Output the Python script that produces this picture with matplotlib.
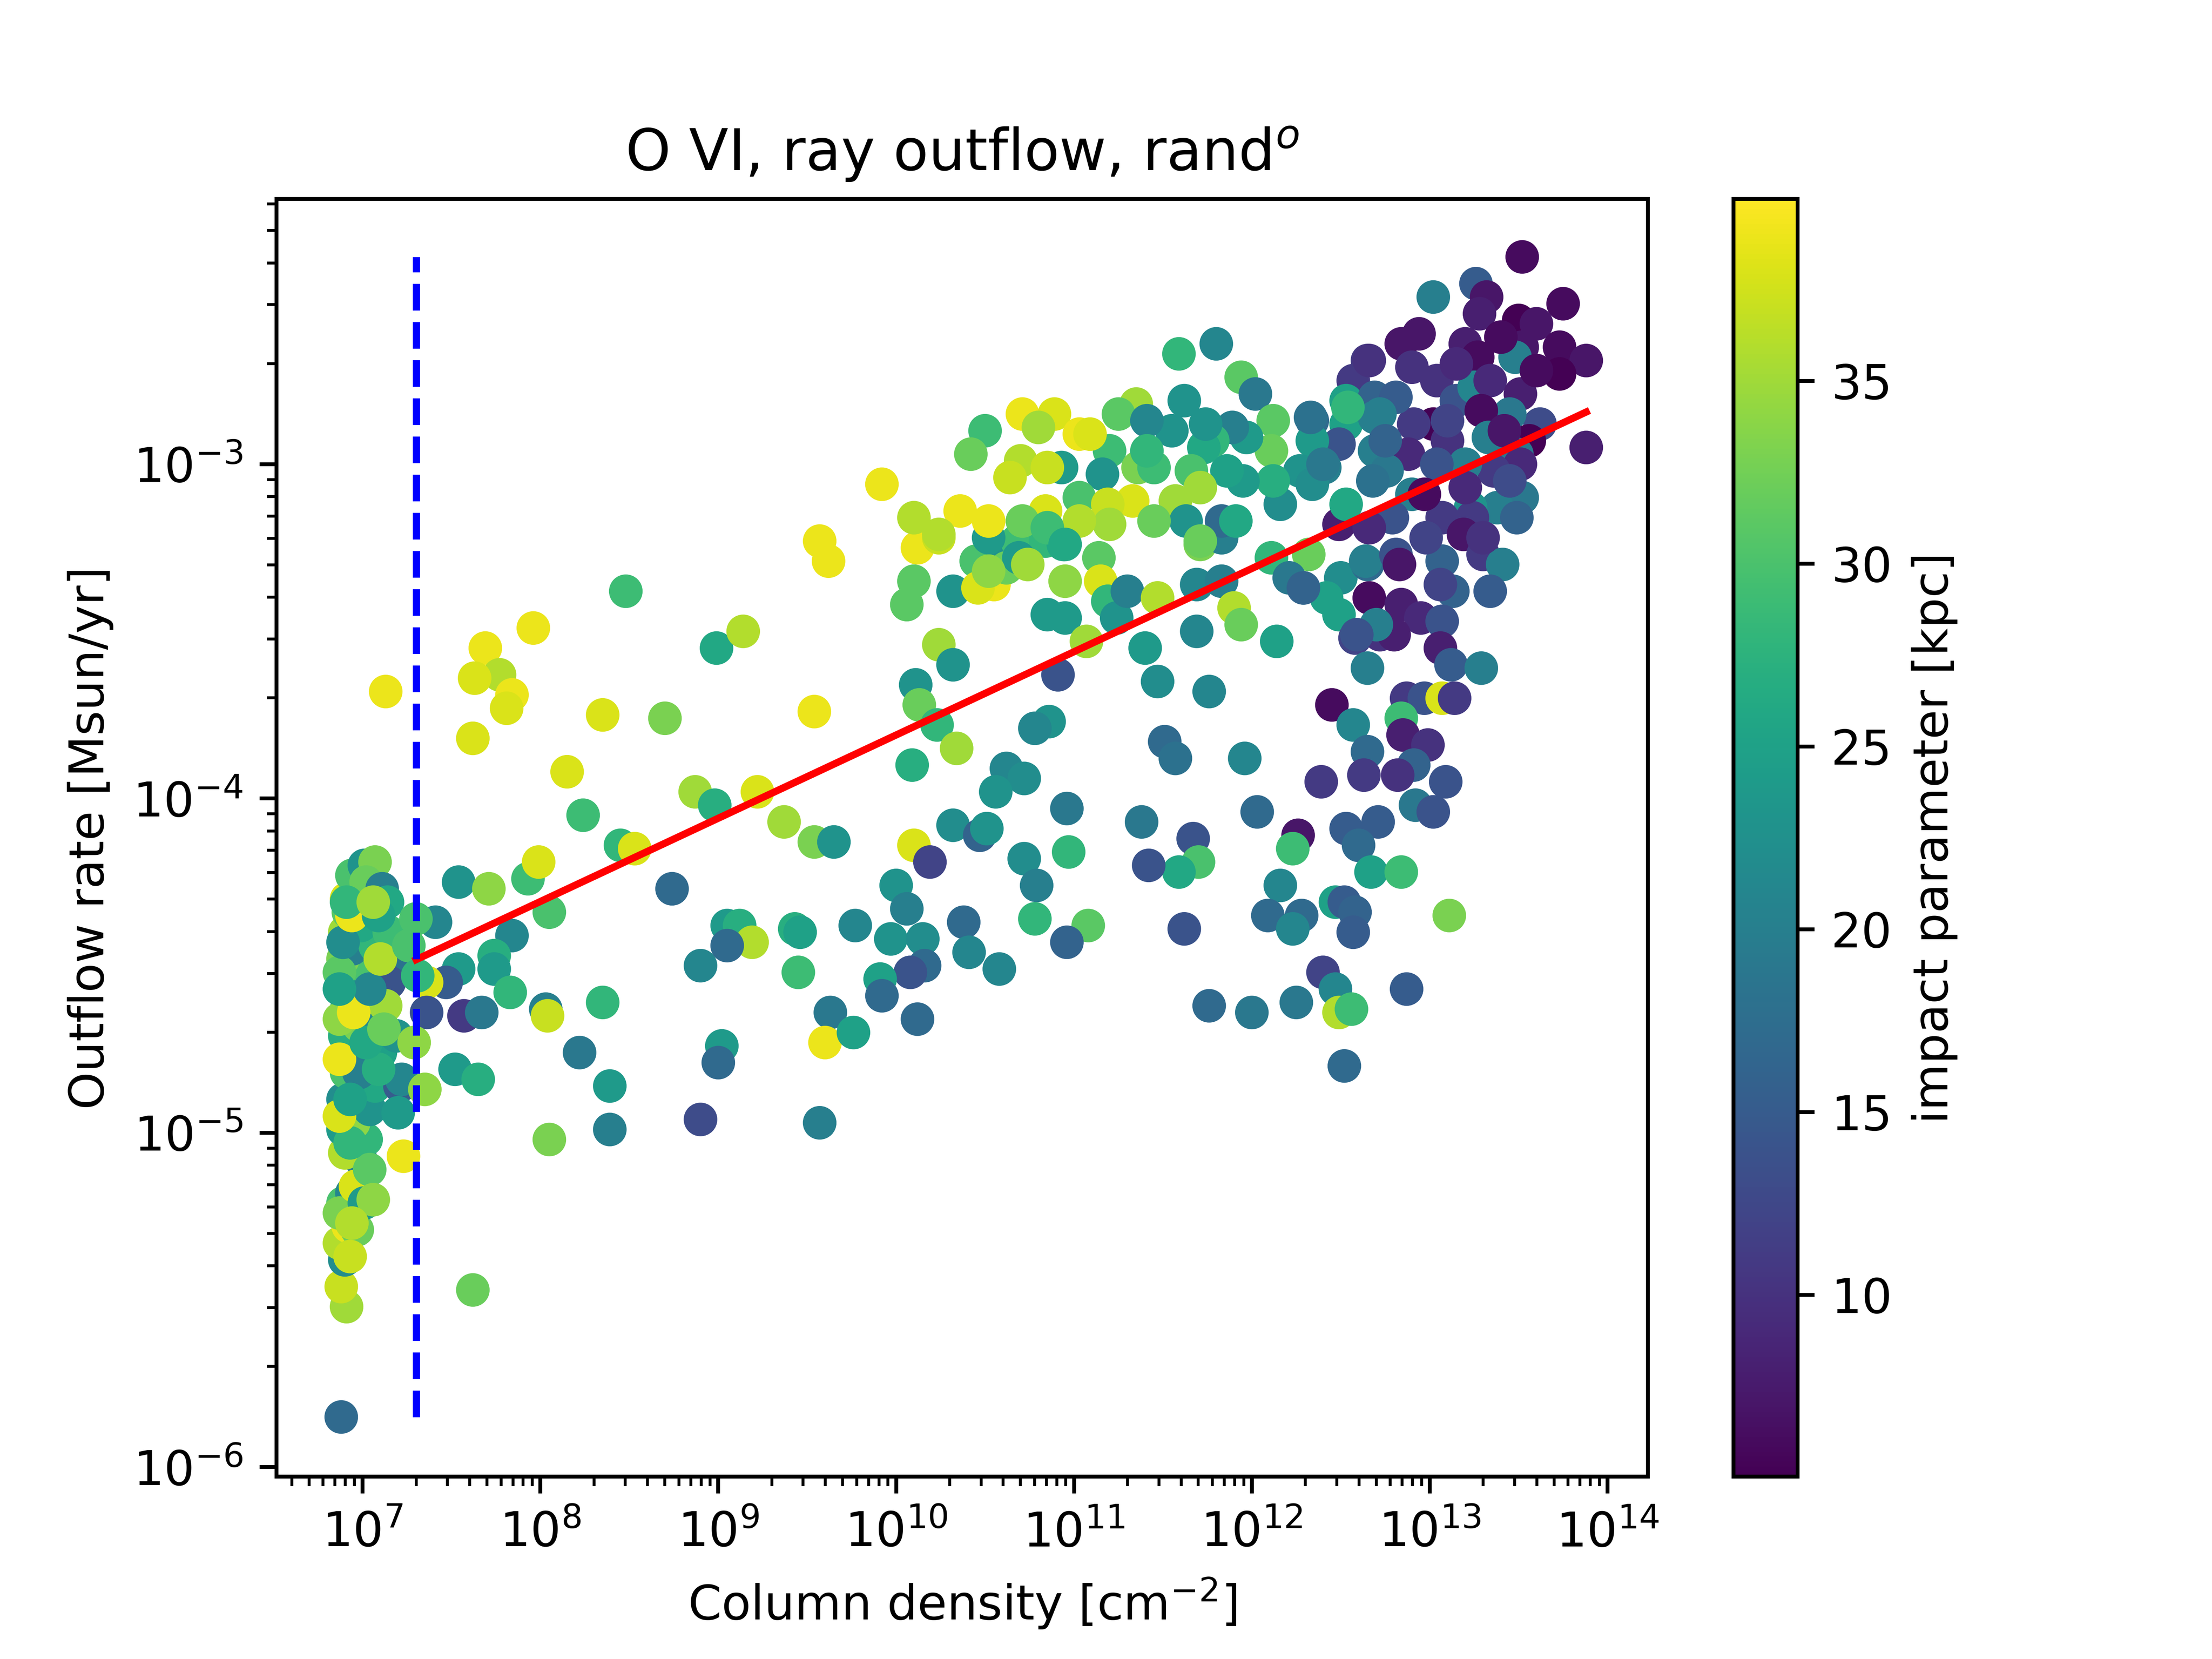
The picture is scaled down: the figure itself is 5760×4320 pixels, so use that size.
import numpy as np
from matplotlib import pyplot as plt

# log10 column density [cm^-2], log10 outflow rate [Msun/yr], impact parameter [kpc]

# column of sightlines at the detection floor (~1e7)
logN_floor = [6.88, 6.91, 6.88, 6.90, 6.87, 6.92, 6.97, 6.89, 6.94, 6.99, 6.90, 7.02, 6.89, 6.95, 7.04, 6.89,
              6.98, 7.07, 6.91, 6.94, 7.03, 7.10, 6.90, 6.98, 7.07, 6.91, 7.00, 7.10, 6.90, 6.98, 7.04, 6.89,
              6.94, 7.07, 6.90, 6.99, 6.92, 7.04, 6.91, 6.97, 6.94, 7.01, 7.07, 7.02, 7.11, 7.14, 7.15, 7.18,
              7.15, 7.13, 7.19, 7.21, 7.23, 7.22, 6.93, 6.87, 6.96, 7.04, 6.93, 6.87, 6.98, 7.09, 6.87, 7.02,
              7.12, 6.87, 6.95, 7.04, 6.87, 7.10, 6.89, 6.94, 7.09, 6.91, 6.87, 7.06, 6.93, 7.01, 7.06, 6.94]
logR_floor = [-5.85, -5.52, -5.46, -5.38, -5.33, -5.28, -5.29, -5.21, -5.18, -5.08, -5.06, -5.02, -4.99, -4.97,
              -4.93, -4.90, -4.86, -4.86, -4.82, -4.77, -4.76, -4.76, -4.71, -4.68, -4.67, -4.63, -4.60, -4.59,
              -4.57, -4.52, -4.52, -4.48, -4.45, -4.44, -4.40, -4.38, -4.34, -4.33, -4.30, -4.26, -4.23, -4.20,
              -4.19, -4.25, -4.27, -4.31, -4.40, -4.52, -4.55, -4.62, -4.71, -4.86, -5.07, -4.84, -5.37, -5.24,
              -5.16, -5.11, -5.03, -4.95, -4.82, -4.81, -4.78, -4.73, -4.69, -4.66, -4.64, -4.57, -4.52, -4.48,
              -4.43, -4.35, -4.35, -4.31, -4.57, -4.31, -4.90, -5.21, -5.20, -5.27]
b_floor = [17, 35, 37, 22, 36, 39, 32, 30, 21, 20, 36, 28, 24, 34, 23, 22, 38, 26, 30, 18, 34, 25, 27, 33, 21, 29,
           36, 22, 37, 24, 30, 33, 20, 28, 35, 26, 31, 22, 38, 24, 30, 23, 33, 32, 20, 26, 29, 18, 14, 35, 23, 15,
           39, 21, 37, 33, 38, 31, 28, 38, 20, 27, 39, 26, 32, 34, 39, 21, 31, 36, 22, 39, 25, 28, 25, 35, 25, 24,
           34, 36]

# low columns, 1e7 - 1e9
logN_low = [8.48, 7.96, 7.69, 7.77, 7.63, 7.84, 7.81, 7.13, 7.62, 8.35, 8.70, 8.15, 8.24, 8.45, 8.53, 8.87, 8.98,
            8.99, 9.14, 7.54, 7.71, 7.93, 7.99, 8.74, 8.05, 7.41, 7.30, 7.26, 7.84, 7.74, 7.74, 7.54, 7.47, 7.36,
            7.31, 7.83, 8.03, 8.04, 7.36, 7.57, 7.67, 8.35, 8.90, 7.29, 7.35, 7.52, 7.65, 8.22, 8.39, 8.39, 8.90,
            8.05, 7.20, 7.62]
logR_low = [-3.38, -3.49, -3.55, -3.63, -3.64, -3.69, -3.73, -3.68, -3.82, -3.75, -3.76, -3.92, -4.05, -4.14,
            -4.15, -3.98, -4.02, -3.55, -3.50, -4.25, -4.27, -4.24, -4.19, -4.27, -4.34, -4.37, -4.36, -4.44,
            -4.41, -4.47, -4.51, -4.51, -4.55, -4.55, -4.53, -4.58, -4.63, -4.65, -4.64, -4.65, -4.64, -4.61,
            -4.50, -4.73, -4.87, -4.81, -4.84, -4.76, -4.86, -4.99, -4.96, -5.02, -4.94, -5.47]
b_low = [29, 39, 39, 36, 38, 39, 38, 39, 38, 38, 33, 38, 29, 28, 38, 35, 27, 26, 36, 23, 34, 29, 38, 17, 30, 21,
         30, 30, 21, 27, 24, 24, 15, 38, 28, 28, 20, 37, 14, 11, 19, 28, 21, 34, 34, 24, 27, 19, 24, 20, 13, 33,
         24, 32]

# middle columns, 1e9 - 1e12
logN_mid = [9.57, 9.62, 10.12, 10.24, 10.53, 10.68, 10.84, 10.94, 11.71, 11.83, 10.10, 10.06, 10.32, 10.45,
            10.53, 10.55, 10.62, 10.69, 10.74, 10.85, 10.95, 10.95, 11.14, 11.15, 11.19, 11.24, 11.30, 11.47,
            11.69, 11.83, 11.69, 11.07, 11.40, 10.91, 11.47, 11.76, 10.86, 10.78, 11.51, 11.57, 10.24, 10.32,
            10.11, 10.13, 9.54, 10.23, 10.34, 10.09, 10.62, 10.72, 10.56, 10.96, 9.22, 9.37, 9.54, 9.65, 10.32,
            10.47, 10.51, 11.38, 11.67, 11.70, 11.59, 11.42, 10.97, 10.72, 10.79, 10.10, 10.19, 10.00, 10.06,
            10.38, 10.78, 11.08, 10.96, 11.62, 9.77, 9.97, 10.15, 10.41, 10.58, 10.16, 10.08, 9.91, 9.92, 9.05,
            9.12, 9.19, 9.05, 9.43, 9.46, 9.45, 9.63, 9.60, 9.76, 10.12, 11.76, 9.02, 9.00, 9.57]
logR_mid = [-3.23, -3.29, -3.25, -3.22, -3.23, -3.23, -3.23, -3.24, -3.24, -3.22, -3.35, -3.42, -3.38, -3.29,
            -3.33, -3.36, -3.31, -3.28, -3.30, -3.45, -3.46, -3.35, -3.28, -3.35, -3.41, -3.46, -3.38, -3.40,
            -3.36, -3.35, -3.50, -3.53, -3.55, -3.63, -3.65, -3.68, -3.77, -3.79, -3.83, -3.88, -3.54, -3.60,
            -3.66, -3.72, -3.74, -3.78, -3.85, -3.90, -3.91, -3.94, -3.98, -4.03, -3.98, -4.07, -4.13, -4.13,
            -4.08, -4.11, -4.09, -4.07, -4.12, -4.19, -4.22, -4.20, -4.16, -4.18, -4.26, -4.14, -4.19, -4.26,
            -4.33, -4.37, -4.36, -4.38, -4.43, -4.39, -4.38, -4.42, -4.42, -4.46, -4.51, -4.50, -4.52, -4.54,
            -4.59, -4.38, -4.38, -4.43, -4.44, -4.39, -4.40, -4.52, -4.64, -4.73, -4.70, -4.66, -4.62, -4.74,
            -4.79, -4.97]
b_mid = [39, 39, 39, 37, 23, 29, 28, 26, 33, 20, 31, 31, 23, 30, 36, 39, 32, 24, 35, 24, 24, 34, 31, 38, 28, 23,
         20, 36, 21, 20, 21, 35, 24, 14, 22, 21, 23, 21, 17, 18, 35, 23, 23, 32, 39, 28, 35, 27, 21, 22, 23, 19,
         38, 35, 33, 23, 22, 16, 23, 19, 14, 30, 26, 14, 28, 22, 20, 38, 12, 23, 20, 17, 28, 31, 16, 14, 21, 23,
         22, 21, 21, 17, 14, 25, 17, 24, 27, 36, 17, 27, 25, 29, 19, 39, 25, 17, 17, 24, 17, 20]

# upper band around 1e-3, 1e10 - 1e13
logN_band = [11.59, 11.80, 11.94, 12.02, 12.65, 12.57, 12.53, 12.69, 12.53, 12.69, 12.49, 12.69, 12.34, 12.34,
             12.12, 12.11, 12.27, 12.41, 12.34, 12.16, 12.12, 11.95, 11.86, 11.97, 11.89, 11.78, 11.73, 11.66,
             11.71, 11.57, 11.63, 11.83, 11.91, 11.71, 11.55, 11.62, 11.74, 11.35, 11.25, 11.41, 11.20, 11.36,
             11.45, 11.41, 11.16, 11.03, 11.33, 11.19, 11.45, 11.20, 11.03, 10.93, 10.71, 10.89, 11.03, 11.09,
             10.80, 10.50, 10.42, 10.70, 10.64, 10.85, 10.84, 10.71, 10.85, 10.95, 10.52, 9.92, 10.10, 10.36,
             10.52, 10.24, 10.46, 10.52, 11.90, 11.94, 12.11, 12.32, 12.21, 12.29, 12.50, 12.42, 12.49, 12.66,
             12.49, 12.65, 12.58, 12.65, 12.72, 12.14, 12.45, 12.57]
logR_band = [-2.67, -2.64, -2.74, -2.79, -2.69, -2.75, -2.81, -2.80, -2.88, -2.86, -2.94, -2.96, -2.87, -2.93,
             -2.87, -2.96, -3.02, -3.01, -3.06, -3.12, -3.05, -3.05, -3.02, -2.92, -2.89, -2.93, -2.95, -3.02,
             -3.07, -3.11, -3.17, -3.17, -3.17, -3.23, -2.90, -2.81, -2.88, -2.82, -2.85, -2.87, -2.96, -3.01,
             -3.01, -2.96, -3.03, -3.10, -3.11, -3.12, -3.17, -3.18, -3.17, -3.01, -2.85, -2.85, -2.91, -2.91,
             -2.89, -2.90, -2.97, -2.99, -3.04, -3.01, -3.14, -3.17, -3.19, -3.24, -3.22, -3.06, -3.16, -3.14,
             -3.17, -3.21, -3.37, -3.32, -3.43, -3.48, -3.28, -3.27, -3.34, -3.37, -3.34, -3.40, -3.45, -3.40,
             -3.18, -3.30, -3.52, -3.61, -3.51, -3.53, -3.72, -3.78]
b_band = [28, 21, 31, 19, 11, 11, 25, 16, 25, 20, 14, 20, 17, 24, 31, 32, 23, 20, 22, 22, 27, 24, 25, 24, 20, 28,
          26, 30, 35, 35, 23, 17, 26, 32, 23, 23, 23, 35, 31, 21, 29, 33, 29, 28, 23, 30, 38, 37, 32, 35, 36, 24,
          39, 38, 39, 38, 35, 29, 32, 36, 37, 37, 38, 32, 29, 26, 24, 39, 36, 39, 39, 36, 38, 34, 36, 32, 28, 32,
          19, 19, 22, 25, 25, 6, 8, 17, 12, 20, 10, 25, 6, 21]

# high columns, 1e12 - 1e14
logN_high = [13.52, 13.26, 13.32, 13.28, 13.02, 13.75, 13.50, 13.60, 13.73, 13.88, 13.73, 13.52, 13.48, 12.94,
             12.84, 12.66, 12.90, 13.20, 13.27, 13.04, 13.15, 13.25, 13.34, 13.51, 13.62, 13.45, 13.29, 13.02,
             12.91, 12.81, 12.72, 12.54, 12.33, 13.56, 13.88, 13.33, 13.10, 12.88, 13.49, 13.51, 13.36, 13.20,
             13.04, 12.76, 12.68, 12.40, 13.52, 13.38, 13.23, 13.49, 13.24, 13.07, 13.19, 12.90, 12.97, 12.79,
             12.66, 12.53, 12.64, 12.81, 12.83, 13.07, 13.30, 13.41, 13.34, 13.13, 13.06, 12.84, 12.95, 13.07,
             12.80, 12.70, 12.59, 13.06, 13.12, 13.29, 12.29, 12.87, 12.97, 13.07, 13.14, 12.84, 12.85, 12.99,
             12.65, 12.91, 12.63, 12.82, 13.09, 12.39, 11.96, 12.92, 13.02, 12.03, 12.26, 12.23, 12.53, 12.71,
             12.60, 12.67, 12.84, 12.16, 12.09, 12.28, 12.23, 12.47, 12.52, 12.58, 12.57, 13.11, 12.40, 12.47,
             12.49, 12.56, 12.87, 12.00, 12.25, 12.52, 13.40, 13.15, 13.60, 13.42, 13.20, 12.98, 13.30, 13.45,
             13.10, 12.75]
logR_high = [-2.38, -2.46, -2.50, -2.55, -2.50, -2.52, -2.57, -2.58, -2.65, -2.69, -2.73, -2.65, -2.68, -2.61,
             -2.64, -2.69, -2.71, -2.64, -2.68, -2.75, -2.81, -2.77, -2.75, -2.79, -2.88, -2.85, -2.84, -2.88,
             -2.88, -2.80, -2.85, -2.83, -2.86, -2.93, -2.95, -2.92, -2.93, -2.97, -2.97, -3.00, -3.02, -3.00,
             -3.00, -3.02, -3.05, -3.00, -3.10, -3.13, -3.13, -3.16, -3.16, -3.16, -3.21, -3.09, -3.09, -3.16,
             -3.19, -3.12, -3.29, -3.27, -3.30, -3.29, -3.27, -3.30, -3.38, -3.38, -3.36, -3.42, -3.46, -3.47,
             -3.51, -3.48, -3.51, -3.55, -3.60, -3.61, -3.37, -3.70, -3.70, -3.70, -3.70, -3.76, -3.81, -3.84,
             -3.86, -3.90, -3.93, -3.93, -3.95, -3.95, -3.88, -4.02, -4.04, -4.04, -4.11, -4.15, -4.09, -4.07,
             -4.14, -4.22, -4.22, -4.26, -4.35, -4.35, -4.39, -4.31, -4.31, -4.34, -4.40, -4.35, -4.52, -4.57,
             -4.64, -4.63, -4.57, -4.64, -4.61, -4.80, -2.62, -2.70, -2.72, -2.90, -3.07, -3.22, -3.22, -3.05,
             -2.87, -2.93]
b_high = [6, 15, 7, 8, 20, 6, 5, 7, 6, 7, 5, 7, 20, 7, 7, 10, 10, 8, 6, 10, 14, 21, 9, 8, 13, 19, 6, 5, 11, 15,
          20, 28, 18, 5, 8, 20, 10, 9, 19, 9, 11, 20, 14, 19, 18, 19, 19, 20, 23, 16, 11, 11, 7, 20, 6, 14, 9, 26,
          20, 14, 7, 16, 11, 20, 15, 16, 12, 8, 9, 14, 8, 20, 14, 8, 15, 20, 16, 11, 14, 38, 11, 29, 8, 10, 17,
          16, 11, 10, 14, 11, 21, 19, 14, 17, 7, 29, 15, 15, 17, 25, 29, 21, 17, 17, 21, 25, 15, 16, 15, 33, 12,
          21, 36, 29, 15, 19, 19, 17, 6, 9, 6, 7, 9, 12, 10, 13, 12, 16]

# power-law fit in log space, drawn above the 2e7 cut
N_cut = 2e7
fit_slope = 0.249
fit_intercept = -6.30

logN = np.concatenate([logN_floor, logN_low, logN_mid, logN_band, logN_high])
logR = np.concatenate([logR_floor, logR_low, logR_mid, logR_band, logR_high])
impact = np.concatenate([b_floor, b_low, b_mid, b_band, b_high])
col = 10**logN
rate = 10**logR

fig = plt.figure()
plt.scatter(col, rate, c=impact, cmap='viridis', vmin=5.03, vmax=39.97, linewidths=1.0)
plt.xscale('log')
plt.yscale('log')

x_fit = np.array([N_cut, col.max()])
plt.plot(x_fit, 10**fit_intercept * x_fit**fit_slope, color='r')
plt.vlines(N_cut, rate.min(), rate.max(), colors='b', linestyles='dashed')

cb = plt.colorbar()
cb.set_label('impact parameter [kpc]')
plt.xlabel('Column density [cm$^{-2}$]')
plt.ylabel('Outflow rate [Msun/yr]')
plt.title('O VI, ray outflow, rand$^o$')
plt.xlim(10**6.516, 10**14.227)
plt.ylim(10**-6.028, 10**-2.207)

plt.savefig('out.png', dpi=900)
